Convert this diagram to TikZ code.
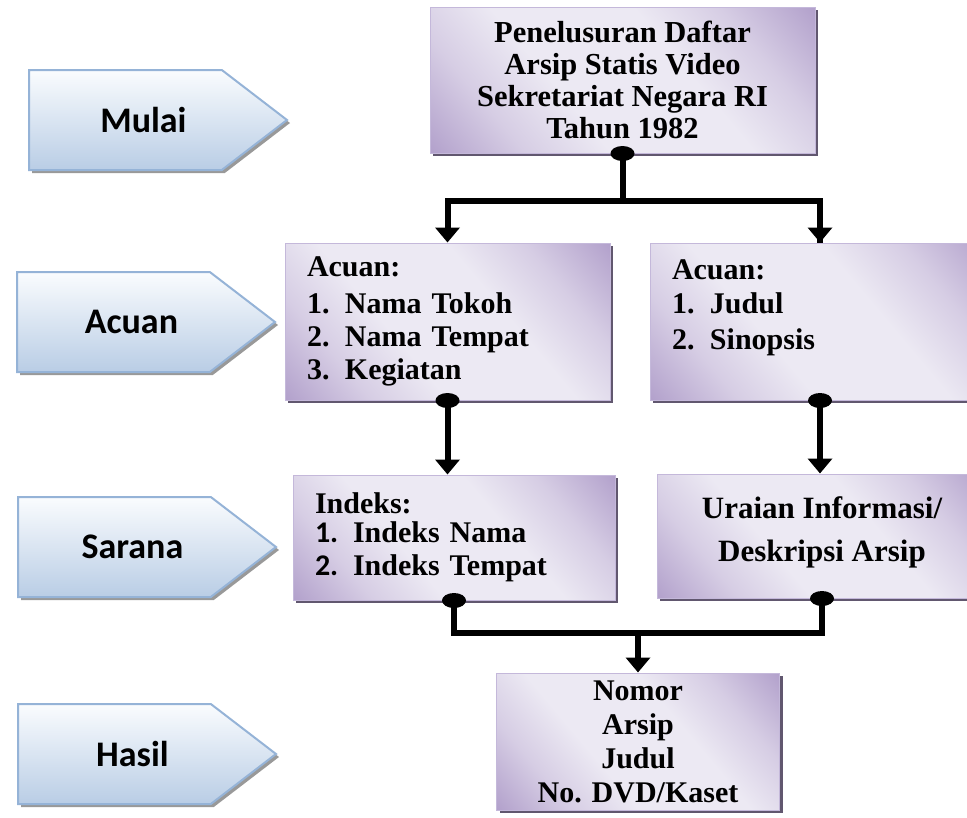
\documentclass[tikz,border=0pt]{standalone}
\usepackage{fontspec}
\setmainfont{Liberation Serif}
\newfontfamily\calibri{Carlito}
\usetikzlibrary{calc,arrows.meta,shapes.symbols,shadows}

\definecolor{stagetop}{RGB}{250,252,254}
\definecolor{stagebot}{RGB}{185,205,229}
\definecolor{stageline}{RGB}{149,179,215}
\definecolor{boxdark}{RGB}{176,158,202}
\definecolor{boxmid}{RGB}{214,205,228}
\definecolor{boxlight}{RGB}{236,233,243}
\definecolor{boxline}{RGB}{196,184,218}
\pgfdeclarehorizontalshading{lilac}{100bp}{color(0bp)=(boxdark); color(14bp)=(boxdark); color(28bp)=(boxmid); color(40bp)=(boxlight); color(60bp)=(boxlight); color(72bp)=(boxmid); color(86bp)=(boxdark); color(100bp)=(boxdark)}

\tikzset{
  stage/.style={signal, signal to=east, signal pointer angle=75,
    draw=stageline, line width=2pt, top color=stagetop, bottom color=stagebot,
    minimum width=258pt, minimum height=100pt, inner sep=0pt,
    font=\calibri\bfseries\fontsize{36}{40}\selectfont,
    execute at begin node=\hspace*{36pt},
    drop shadow={shadow xshift=3pt, shadow yshift=-3pt, fill=black!40, opacity=1}},
  infobox/.style={rectangle, draw=boxline, line width=1pt,
    shading=lilac, shading angle=40,
    inner sep=0pt, font=\bfseries\fontsize{30}{33}\selectfont,
    drop shadow={shadow xshift=3pt, shadow yshift=-3pt, fill=black!45!boxdark, opacity=1}},
  link/.style={line width=6pt},
  tip/.style={-{Triangle[width=24pt,length=15pt]}},
}
\newcommand{\nr}[1]{\makebox[38pt][l]{#1}}

\begin{document}
\begin{tikzpicture}[x=1pt,y=-1pt]
  \useasboundingbox (0,0) rectangle (967,817);
  \clip (0,0) rectangle (967,817);

  % tahap di kiri
  \node[stage, anchor=west] (mulai) at (28,120) {Mulai};
  \node[stage, anchor=west] (acuan) at (16,322) {Acuan};
  \node[stage, anchor=west] (sarana) at (17,547) {Sarana};
  \node[stage, anchor=west] (hasil) at (17,754) {Hasil};

  % kotak isi
  \node[infobox, minimum width=385pt, minimum height=146pt, align=center, font=\bfseries\fontsize{30.5}{32}\selectfont] (sumber) at (622.5,80)
    {Penelusuran Daftar\\Arsip Statis Video\\Sekretariat Negara RI\\Tahun 1982};
  \node[infobox, minimum height=157pt, inner xsep=22pt, text width=281pt, align=left] (acuanA) at (447.5,321.5)
    {Acuan:\\[4pt]\nr{1.}Nama Tokoh\\\nr{2.}Nama Tempat\\\nr{3.}Kegiatan};
  \node[infobox, minimum height=157pt, inner xsep=22pt, text width=296pt, align=left] (acuanB) at (820,321.5)
    {Acuan:\\[1pt]\nr{1.}Judul\\[3pt]\nr{2.}Sinopsis\\\mbox{}};
  \node[infobox, minimum height=125pt, inner xsep=22pt, text width=278pt, align=left] (saranaA) at (454,537.5)
    {Indeks:\\[-4pt]\nr{\calibri\bfseries 1.}Indeks Nama\\\nr{\calibri\bfseries 2.}Indeks Tempat};
  \node[infobox, minimum width=330pt, minimum height=124pt, text depth=14pt, align=center, font=\bfseries\fontsize{31}{33}\selectfont] (saranaB) at (822,536)
    {Uraian Informasi/\\[10pt]Deskripsi Arsip};
  \node[infobox, minimum width=283pt, minimum height=137pt, align=center] (hasilA) at (638,741.5)
    {Nomor\\[1pt]Arsip\\[1pt]Judul\\[1pt]No. DVD/Kaset};

  % penghubung
  \coordinate (j1) at ($(sumber.south)+(0,47)$);
  \coordinate (j2) at ($(hasilA.north)+(0,-40)$);
  \draw[link] (j1) -| (acuanB.north);
  \draw[link,tip] (j1) -| (acuanA.north);
  \draw[link] (sumber.south) -- (j1);
  \draw[link,tip] (acuanB.north |- j1) -- (acuanB.north);
  \draw[link,tip] (acuanA.south) -- (acuanA.south |- saranaA.north);
  \draw[link,tip] (acuanB.south) -- (acuanB.south |- saranaB.north);
  \draw[link] (saranaA.south) |- (j2) -| (saranaB.south);
  \draw[link,tip] (j2) -- (hasilA.north);
  \foreach \p in {sumber, acuanA, acuanB, saranaA, saranaB}
    \fill (\p.south) ellipse [x radius=12pt, y radius=7.5pt];
\end{tikzpicture}
\end{document}
